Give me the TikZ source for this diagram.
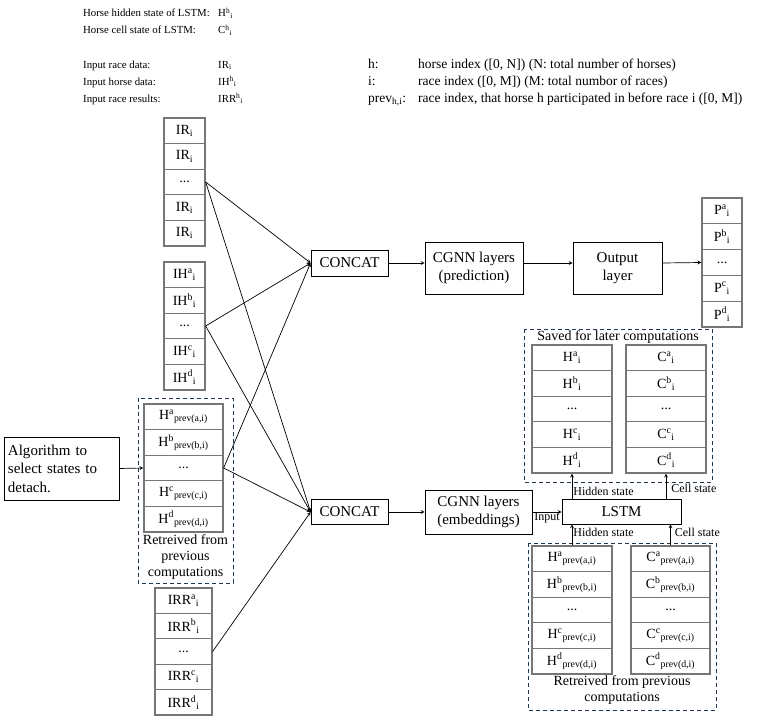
\documentclass[tikz,border=0pt]{standalone}
\usepackage{fontspec}
\setmainfont{Liberation Serif}
\definecolor{dashcol}{RGB}{31,56,80}
\definecolor{cellline}{RGB}{118,118,118}
\newcommand{\supsub}[3]{#1\textsuperscript{#2}\textsubscript{#3}}
\newcommand{\skipdots}{...}
\tikzset{
  cell/.style={draw=cellline, line width=1.3pt, fill=white, minimum height=25.6pt, inner sep=0pt, font=\fontsize{14}{16}\selectfont},
  blk/.style={draw, line width=0.8pt, align=center, inner sep=0pt, font=\fontsize{15}{18.5}\selectfont},
  hdr/.style={anchor=base west, inner sep=0pt, font=\fontsize{10.8}{13}\selectfont},
  hdrix/.style={hdr, font=\fontsize{13.5}{16}\selectfont},
  small/.style={inner sep=2pt, font=\fontsize{12}{14}\selectfont},
  grptxt/.style={align=center, inner sep=0pt, font=\fontsize{14}{16}\selectfont},
  grp/.style={dash pattern=on 4pt off 3pt, draw=dashcol, line width=1pt},
  arr/.style={-stealth, line width=0.7pt}
}
\begin{document}
\begin{tikzpicture}[x=1pt, y=-1pt]
\useasboundingbox (0,0) rectangle (765,717);
% legend
\node[hdr] (lg1) at (83,17) {Horse hidden state of LSTM:};
\node[hdr] (lg1v) at (218,17) {\supsub{H}{h}{i}};
\node[hdr] (lg2) at (83,34) {Horse cell state of LSTM:};
\node[hdr] (lg2v) at (218,34) {\supsub{C}{h}{i}};
\node[hdr] (lg3) at (83,68) {Input race data:};
\node[hdr] (lg3v) at (218,68) {IR\textsubscript{i}};
\node[hdr] (lg4) at (83,85) {Input horse data:};
\node[hdr] (lg4v) at (218,85) {\supsub{IH}{h}{i}};
\node[hdr] (lg5) at (83,102) {Input race results:};
\node[hdr] (lg5v) at (218,102) {\supsub{IRR}{h}{i}};
\node[hdrix] (ix1) at (368,68) {h:};
\node[hdrix] (ix1t) at (418,68) {horse index ([0, N]) (N: total number of horses)};
\node[hdrix] (ix2) at (368,85) {i:};
\node[hdrix] (ix2t) at (418,85) {race index ([0, M]) (M: total numbor of races)};
\node[hdrix] (ix3) at (368,102) {prev\textsubscript{h,i}:};
\node[hdrix] (ix3t) at (418,102) {race index, that horse h participated in before race i ([0, M])};

% dashed groups
\draw[grp] (138,398) rectangle (233,583);
\draw[grp] (524,329) rectangle (712,482);
\draw[grp] (528,543) rectangle (716,710);
\node[grptxt] (retrL) at (185.5,557) {Retreived from\\previous\\computations};
\node[grptxt] (saveT) at (618,337) {Saved for later computations};
\node[grptxt] (retrR) at (622,690) {Retreived from previous\\computations};

% input columns
\foreach \t [count=\k] in {IR\textsubscript{i},IR\textsubscript{i},\skipdots,IR\textsubscript{i},IR\textsubscript{i}}
  \node[cell, minimum width=41pt] (ir\k) at (184.5,{130.8+25.6*(\k-1)}) {\t};
\foreach \t [count=\k] in {\supsub{IH}{a}{i},\supsub{IH}{b}{i},\skipdots,\supsub{IH}{c}{i},\supsub{IH}{d}{i}}
  \node[cell, minimum width=41pt] (ih\k) at (184.5,{274.8+25.6*(\k-1)}) {\t};
\foreach \t [count=\k] in {\supsub{H}{a}{prev(a,i)},\supsub{H}{b}{prev(b,i)},\skipdots,\supsub{H}{c}{prev(c,i)},\supsub{H}{d}{prev(d,i)}}
  \node[cell, minimum width=79pt] (hl\k) at (183.5,{416.8+25.6*(\k-1)}) {\t};
\foreach \t [count=\k] in {\supsub{IRR}{a}{i},\supsub{IRR}{b}{i},\skipdots,\supsub{IRR}{c}{i},\supsub{IRR}{d}{i}}
  \node[cell, minimum width=57pt, minimum height=25.4pt] (irr\k) at (183.5,{600.7+25.4*(\k-1)}) {\t};

% output and state columns
\foreach \t [count=\k] in {\supsub{P}{a}{i},\supsub{P}{b}{i},\skipdots,\supsub{P}{c}{i},\supsub{P}{d}{i}}
  \node[cell, minimum width=40pt, minimum height=25.8pt] (p\k) at (722,{210.9+25.8*(\k-1)}) {\t};
\foreach \t [count=\k] in {\supsub{H}{a}{i},\supsub{H}{b}{i},\skipdots,\supsub{H}{c}{i},\supsub{H}{d}{i}}
  \node[cell, minimum width=80pt] (sh\k) at (572,{357.8+25.6*(\k-1)}) {\t};
\foreach \t [count=\k] in {\supsub{C}{a}{i},\supsub{C}{b}{i},\skipdots,\supsub{C}{c}{i},\supsub{C}{d}{i}}
  \node[cell, minimum width=80pt] (sc\k) at (666,{357.8+25.6*(\k-1)}) {\t};
\foreach \t [count=\k] in {\supsub{H}{a}{prev(a,i)},\supsub{H}{b}{prev(b,i)},\skipdots,\supsub{H}{c}{prev(c,i)},\supsub{H}{d}{prev(d,i)}}
  \node[cell, minimum width=80pt] (ph\k) at (572,{558.8+25.6*(\k-1)}) {\t};
\foreach \t [count=\k] in {\supsub{C}{a}{prev(a,i)},\supsub{C}{b}{prev(b,i)},\skipdots,\supsub{C}{c}{prev(c,i)},\supsub{C}{d}{prev(d,i)}}
  \node[cell, minimum width=79pt] (pc\k) at (670.5,{558.8+25.6*(\k-1)}) {\t};

% blocks
\node[blk, minimum width=115pt, minimum height=63pt, text width=107pt, align=left] (algo) at (61.5,468.5) {Algorithm to\\select states to\\detach.};
\node[blk, minimum width=77pt, minimum height=26pt] (cat1) at (349.5,263) {CONCAT};
\node[blk, minimum width=98pt, minimum height=52pt] (gnn1) at (474,268) {CGNN layers\\(prediction)};
\node[blk, minimum width=89pt, minimum height=52pt] (outl) at (617.5,268) {Output\\layer};
\node[blk, minimum width=77pt, minimum height=25pt] (cat2) at (349.5,512) {CONCAT};
\node[blk, minimum width=107pt, minimum height=44pt] (gnn2) at (478.5,512) {CGNN layers\\(embeddings)};
\node[blk, minimum width=119pt, minimum height=25pt] (lstm) at (621.5,511.5) {LSTM};

% connectors
\draw[arr] (ir3.east) -- (cat1.west);
\draw[arr] (ir3.east) -- (cat2.west);
\draw[arr] (ih3.east) -- (cat1.west);
\draw[arr] (ih3.east) -- (cat2.west);
\draw[arr] (hl3.east) -- (cat1.west);
\draw[arr] (hl3.east) -- (cat2.west);
\draw[arr] (irr3.east) -- (cat2.west);
\draw[arr] (algo.east) -- (hl3.west);
\draw[arr] (cat1.east) -- (cat1 -| gnn1.west);
\draw[arr] (cat1 -| gnn1.east) -- (cat1 -| outl.west);
\draw[arr] (cat1 -| outl.east) -- (p3.west);
\draw[arr] (cat2.east) -- (gnn2.west);
\draw[arr] (gnn2.east) -- node[small, below, inner sep=0.5pt] (inlbl) {Input} (gnn2 -| lstm.west);
\draw[arr] (lstm.north -| sh5.south) -- node[small, pos=0.28, right, inner sep=1pt] (hidU) {Hidden state} (sh5.south);
\draw[arr] (lstm.north -| sc5.south) -- node[small, pos=0.4, right, inner sep=5pt] (celU) {Cell state} (sc5.south);
\draw[arr] (ph1.north) -- node[small, pos=0.6, right, inner sep=1pt] (hidD) {Hidden state} (ph1.north |- lstm.south);
\draw[arr] (pc1.north) -- node[small, pos=0.6, right, inner sep=4pt] (celD) {Cell state} (pc1.north |- lstm.south);
\end{tikzpicture}
\end{document}
